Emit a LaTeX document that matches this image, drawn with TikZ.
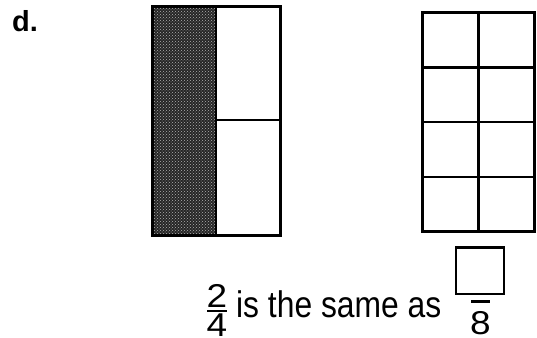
\documentclass[tikz,border=0pt]{standalone}
\usepackage{fontspec}
\setmainfont{Liberation Sans}
\usetikzlibrary{patterns}
\begin{document}
\begin{tikzpicture}[x=1pt,y=-1pt,
  outer/.style={line width=3pt},
  inner/.style={line width=2.4pt},
  txt/.style={inner sep=0pt, anchor=base},
  big/.style={font=\fontsize{33}{33}\selectfont, xscale=1.12},
  shade/.style={fill=black!85}]
\useasboundingbox (0,0) rectangle (537,337);
% label
\node[txt, anchor=base west, font=\fontsize{29}{29}\selectfont\bfseries] (lbl) at (12,31.5) {d.};
% left rectangle: halves
\fill[shade] (152,7) rectangle (216,235);
\fill[pattern=crosshatch dots, pattern color=black!30] (152,7) rectangle (216,235);
\draw[inner] (216,7) -- (216,235);
\draw[inner] (216,120) -- (280,120);
\draw[outer] (152,7) rectangle (280,235);
% right grid: eighths
\draw[inner] (478.3,12.5) -- (478.3,231.5);
\draw[inner] (422.5,67.3) -- (534,67.3);
\draw[inner] (422.5,122) -- (534,122);
\draw[inner] (422.5,176.8) -- (534,176.8);
\draw[outer] (422.5,12.5) rectangle (534,231.5);
% fraction 2/4
\node[txt, big] (num) at (217,307) {2};
\node[txt, big] (den) at (217,336.6) {4};
\draw[line width=2.4pt] (207,310.8) -- (227,310.8);
% sentence
\node[txt, anchor=base west, font=\fontsize{37}{37}\selectfont, xscale=0.86] (sent) at (236,317) {is the same as};
% answer box over 8
\node[draw, line width=2.5pt, minimum width=48pt, minimum height=46.5pt, inner sep=0pt] (ansbox) at (480,270.7) {};
\draw[line width=2.6pt] (471,301.7) -- (489.5,301.7);
\node[txt, big] (eight) at (480.5,334.5) {8};
\end{tikzpicture}
\end{document}
